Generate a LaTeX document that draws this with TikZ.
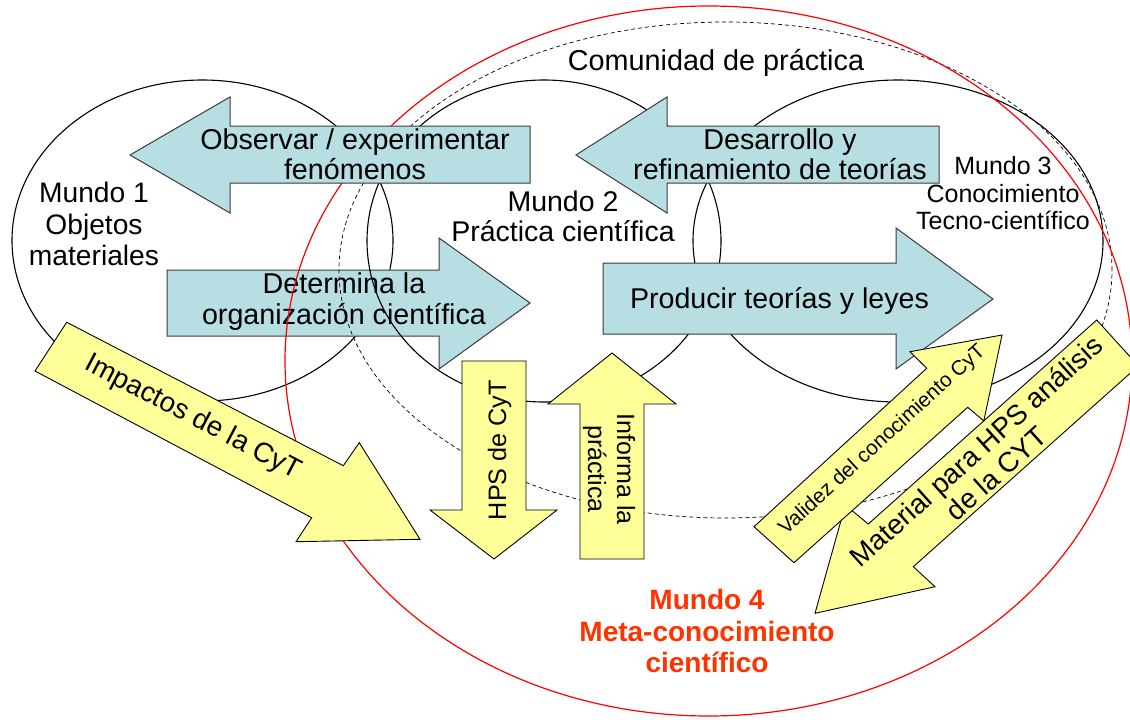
\documentclass[tikz,border=0pt]{standalone}
\usepackage{fontspec}
\setmainfont{Liberation Sans}
\definecolor{tealfill}{RGB}{183,222,226}
\definecolor{tealline}{RGB}{60,60,60}
\definecolor{yelfill}{RGB}{255,255,153}
\definecolor{redline}{RGB}{255,0,0}
\definecolor{redtext}{RGB}{255,51,0}
\begin{document}
\begin{tikzpicture}[x=1pt,y=-1pt,
  world/.style={draw=black,line width=1.1pt},
  community/.style={draw=black,line width=0.7pt,dash pattern=on 4pt off 3pt},
  metaworld/.style={draw=redline,line width=1.2pt},
  tealarrow/.style={fill=tealfill,draw=tealline,line width=1pt,line join=miter},
  yelarrow/.style={fill=yelfill,draw=black,line width=0.9pt,line join=miter},
  lbl/.style={inner sep=0pt,outer sep=0pt,align=center,text=black}
]
\useasboundingbox (0,0) rectangle (1130,720);
\fill[white] (0,0) rectangle (1130,720);
\clip (0,0) rectangle (1130,720);

% Mundo 1 ellipse
\draw[world] (202.5,240.5) ellipse [x radius=190.5pt, y radius=160.5pt];

% Determina la organizacion cientifica (below the other outlines)
\draw[tealarrow] (167,270) -- (439,270) -- (439,238) -- (530,303) -- (439,369) -- (439,336) -- (167,336) -- cycle;
\node[lbl,font=\fontsize{28.7}{31}\selectfont] (det) at (344,301.3) {Determina la\\organización científica};

% Mundo 2, Mundo 3, comunidad, mundo 4 outlines
\draw[world] (544,241) ellipse [x radius=177pt, y radius=161pt];
\draw[world] (898,241) ellipse [x radius=205pt, y radius=161pt];
\draw[community] (725.5,270) ellipse [x radius=386.5pt, y radius=248pt];
\draw[metaworld] (708.5,361) ellipse [x radius=423.5pt, y radius=355pt];

% teal block arrows on top
\draw[tealarrow] (530,126) -- (230,126) -- (230,97) -- (130,155) -- (230,213) -- (230,183) -- (530,183) -- cycle;
\node[lbl,font=\fontsize{28.7}{29.3}\selectfont] (obs) at (355,154.2) {Observar / experimentar\\fenómenos};

\draw[tealarrow] (939,126) -- (667,126) -- (667,97) -- (576,155) -- (667,213) -- (667,183) -- (939,183) -- cycle;
\node[lbl,font=\fontsize{28.7}{30}\selectfont] (des) at (780,153.8) {Desarrollo y\\refinamiento de teorías};

\draw[tealarrow] (603,263) -- (896,263) -- (896,228) -- (993,299) -- (896,369) -- (896,334) -- (603,334) -- cycle;
\node[lbl,anchor=base,font=\fontsize{28.6}{30}\selectfont] (prod) at (779.5,308.3) {Producir teorías y leyes};

% world labels
\node[lbl,font=\fontsize{28.2}{31.5}\selectfont] (m1) at (94,224.2) {Mundo 1\\Objetos\\materiales};
\node[lbl,font=\fontsize{28.5}{30}\selectfont] (m2) at (563,216.3) {Mundo 2\\Práctica científica};
\node[lbl,font=\fontsize{25}{27.5}\selectfont] (m3) at (1003,193.4) {Mundo 3\\Conocimiento\\Tecno-científico};
\node[lbl,anchor=base,font=\fontsize{28.8}{30}\selectfont] (com) at (716,70) {Comunidad de práctica};

% yellow block arrows
\draw[yelarrow] (66.7,322.3) -- (343.3,465.7) -- (359.3,442.7) -- (420,539.3) -- (296,541.7) -- (311.7,517.7) -- (35,371) -- cycle;
\node[lbl,rotate=-27.6,font=\fontsize{27.8}{30}\selectfont] (imp) at (193,418) {Impactos de la CyT};

\draw[yelarrow] (462,361) -- (526,361) -- (526,510) -- (557,510) -- (494,559) -- (430,510) -- (462,510) -- cycle;
\node[lbl,rotate=90,anchor=base,font=\fontsize{25.2}{28}\selectfont] (hps) at (506,450) {HPS de CyT};

\draw[yelarrow] (580,559) -- (580,404) -- (548,404) -- (612,353) -- (676,404) -- (644,404) -- (644,559) -- cycle;
\node[lbl,rotate=-90,font=\fontsize{25}{29}\selectfont] (inf) at (609,469) {Informa la\\práctica};

\draw[yelarrow] (1096.7,320) -- (1138.4,365.9) -- (913.3,566.7) -- (935,586.7) -- (815,613.3) -- (845.3,505.1) -- (868.3,524) -- cycle;
\draw[yelarrow] (754,526.7) -- (926.7,368.3) -- (910,351.7) -- (1002,335) -- (983.8,420.9) -- (967.7,407.3) -- (794,562.7) -- cycle;
\node[lbl,rotate=42,font=\fontsize{27.9}{30}\selectfont] (mat) at (986,462) {Material para HPS análisis\\de la CYT};
\node[lbl,rotate=42.4,font=\fontsize{20.7}{24}\selectfont] (val) at (882.5,440) {Validez del conocimiento CyT};

% Mundo 4 label
\node[lbl,text=redtext,font=\bfseries\fontsize{28}{31.5}\selectfont] (m4) at (707,631) {Mundo 4\\Meta-conocimiento\\científico};
\end{tikzpicture}
\end{document}
